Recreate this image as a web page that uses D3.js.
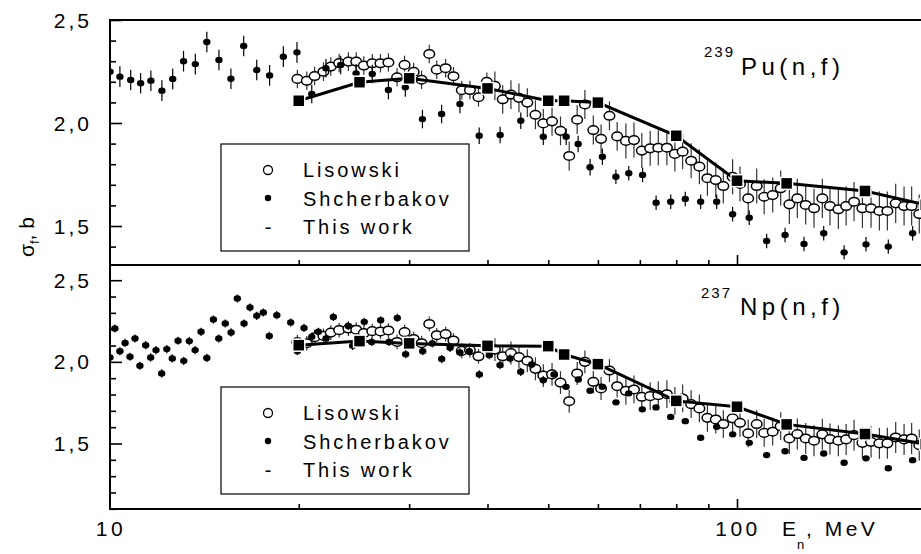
<!DOCTYPE html>
<html>
<head>
<meta charset="utf-8">
<script src="https://cdn.jsdelivr.net/npm/d3@7"></script>
<style>
body{margin:0;background:#fff;}
text{font-family:Arial,'Liberation Sans',sans-serif;fill:#000;}
</style>
</head>
<body>
<div class="chart"></div>
<script>
//// values (E in MeV, sigma in b)

// Lisowski energies, same grid for both targets
const lisE = [19.9,20.6,21.2,21.9,22.5,23.2,24.0,24.7,25.4,26.2,
    27.0,27.8,28.7,29.5,30.5,31.4,32.3,33.2,34.3,35.3,
    36.4,37.5,38.7,39.9,41.1,42.3,43.6,44.9,46.3,47.7,
    49.1,50.7,52.3,54.0,55.6,57.2,59.0,60.7,62.6,64.4,
    66.5,68.5,70.5,72.7,74.9,77.3,79.6,81.9,84.5,87.1,
    89.7,92.5,95.1,98.4,101.1,104.2,107.5,110.5,114.0,117.4,
    121.2,124.8,128.7,132.7,136.8,140.7,145.1,149.3,153.7,158.5,
    163.6,168.7,173.7,179.1,184.7,189.9,195.3];

const lisPu = [2.214,2.205,2.228,2.249,2.274,2.291,2.298,2.298,2.279,2.290,
    2.290,2.294,2.222,2.282,2.248,2.210,2.335,2.259,2.266,2.227,
    2.159,2.160,2.125,2.200,2.180,2.115,2.138,2.122,2.099,2.040,
    1.998,2.008,1.962,1.840,2.016,2.090,1.966,1.923,2.035,1.935,
    1.913,1.917,1.866,1.877,1.880,1.880,1.850,1.861,1.817,1.788,
    1.732,1.723,1.694,1.739,1.704,1.634,1.694,1.642,1.650,1.683,
    1.605,1.634,1.602,1.586,1.634,1.597,1.581,1.597,1.618,1.586,
    1.586,1.573,1.573,1.610,1.597,1.597,1.558];

const lisNp = [2.121,2.114,2.151,2.159,2.179,2.194,2.204,2.197,2.176,2.188,
    2.186,2.192,2.122,2.182,2.140,2.114,2.232,2.163,2.170,2.131,
    2.067,2.072,2.034,2.087,2.075,2.034,2.054,2.029,2.007,1.957,
    1.916,1.923,1.873,1.759,1.929,2.000,1.878,1.837,1.947,1.851,
    1.823,1.831,1.786,1.790,1.796,1.802,1.761,1.776,1.741,1.715,
    1.657,1.647,1.619,1.654,1.627,1.562,1.619,1.565,1.572,1.606,
    1.531,1.558,1.531,1.517,1.556,1.527,1.517,1.525,1.551,1.504,
    1.510,1.501,1.501,1.537,1.525,1.531,1.490];

const lisErr = [0.045,0.045,0.045,0.045,0.045,0.045,0.045,0.045,0.045,0.045,
    0.045,0.045,0.045,0.045,0.045,0.045,0.045,0.045,0.045,0.045,
    0.045,0.045,0.045,0.045,0.07,0.07,0.07,0.07,0.07,0.07,
    0.07,0.07,0.07,0.07,0.07,0.07,0.07,0.07,0.07,0.07,
    0.085,0.085,0.085,0.085,0.085,0.085,0.085,0.085,0.085,0.085,
    0.085,0.085,0.085,0.085,0.085,0.085,0.085,0.085,0.085,0.085,
    0.095,0.095,0.095,0.095,0.095,0.095,0.095,0.095,0.095,0.095,
    0.095,0.095,0.095,0.095,0.095,0.095,0.095];

// Shcherbakov: [E, sigma, error]
const shchPu = [[10.0,2.249,.05],[10.37,2.225,.05],[10.79,2.209,.05],[11.19,2.193,.05],[11.62,2.205,.05],
    [12.1,2.157,.05],[12.59,2.214,.05],[13.1,2.30,.05],[13.68,2.286,.05],[14.27,2.393,.05],
    [14.92,2.306,.05],[15.59,2.215,.05],[16.34,2.374,.05],[17.14,2.257,.05],[17.97,2.231,.05],
    [18.9,2.322,.05],[19.87,2.343,.05],[20.98,2.141,.045],[22.1,2.266,.045],[23.33,2.282,.045],
    [24.69,2.241,.045],[26.2,2.238,.045],[27.8,2.160,.045],[29.58,2.173,.045],[31.5,2.019,.045],
    [33.8,2.044,.045],[36.15,2.092,.045],[38.8,1.938,.04],[41.9,1.942,.04],[45.2,2.011,.04],
    [49.1,1.933,.04],[53.4,1.933,.04],[55.8,1.898,.04],[58.3,1.785,.04],[61.0,1.836,.04],
    [64.1,1.739,.035],[67.2,1.756,.035],[70.7,1.748,.035],[74.3,1.613,.035],[78.4,1.618,.035],
    [82.7,1.631,.035],[87.5,1.618,.035],[92.8,1.618,.035],[98.4,1.557,.035],[104.6,1.540,.035],
    [111.5,1.427,.035],[119.3,1.456,.035],[127.9,1.413,.035],[137.5,1.465,.035],[148.2,1.372,.035],
    [160.6,1.411,.035],[174.3,1.400,.035],[190.6,1.465,.035]];

const shchNp = [[10.0,2.027,.025],[10.18,2.204,.025],[10.37,2.065,.025],[10.57,2.116,.025],[10.76,2.031,.025],
    [10.96,2.143,.025],[11.16,1.976,.025],[11.40,2.102,.025],[11.61,2.027,.025],[11.84,2.072,.025],
    [12.09,1.929,.025],[12.32,2.078,.025],[12.57,2.021,.025],[12.84,2.129,.025],[13.11,2.006,.025],
    [13.38,2.127,.025],[13.67,2.072,.025],[13.97,2.184,.025],[14.27,2.024,.025],[14.62,2.259,.025],
    [14.91,2.143,.025],[15.27,2.235,.025],[15.60,2.180,.025],[15.96,2.388,.025],[16.36,2.235,.025],
    [16.72,2.333,.025],[17.14,2.282,.025],[17.56,2.302,.025],[17.95,2.159,.025],[18.45,2.286,.025],
    [19.42,2.241,.025],[19.90,2.065,.025],[20.39,2.208,.025],[20.98,2.153,.025],[21.49,2.184,.025],
    [22.11,2.143,.025],[22.71,2.275,.025],[23.99,2.220,.025],[24.38,2.098,.025],[25.44,2.245,.025],
    [26.14,2.122,.025],[27.02,2.255,.025],[27.86,2.122,.025],[28.72,2.269,.025],[29.62,2.047,.025],
    [31.53,2.065,.025],[32.66,2.113,.025],[33.81,2.017,.025],[34.86,2.086,.025],[36.15,2.058,.025],
    [37.41,2.065,.025],[38.82,1.923,.025],[40.27,2.041,.025],[41.88,1.980,.025],[43.45,2.021,.025],
    [45.19,1.939,.025],[47.05,1.984,.025],[49.10,1.888,.025],[51.07,1.923,0],[53.37,1.847,0],
    [55.83,1.892,0],[58.29,1.823,0],[60.99,1.847,0],[64.12,1.752,0],[67.2,1.807,0],
    [70.63,1.709,0],[74.27,1.721,0],[78.39,1.663,0],[82.70,1.637,0],[87.51,1.535,0],
    [92.81,1.602,0],[98.43,1.556,0],[104.6,1.504,0],[111.5,1.429,0],[119.3,1.453,0],
    [127.9,1.412,0],[137.5,1.439,0],[148.2,1.382,0],[160.6,1.409,0],[174.3,1.348,0],[190.6,1.398,0]];

// this work
const workE = [20,25,30,40,50,53,60,80,100,120,160,200];
const workPu = [2.108,2.198,2.217,2.168,2.108,2.108,2.099,1.938,1.720,1.707,1.670,1.603];
const workNp = [2.102,2.127,2.113,2.098,2.096,2.045,1.986,1.761,1.725,1.617,1.558,1.496];

const yMajor = [1.5,2.0,2.5];
const yMinor = [1.1,1.2,1.3,1.4,1.6,1.7,1.8,1.9,2.1,2.2,2.3,2.4];
const xMinor = [20,30,40,50,60,70,80,90];
const xMajor = [100];
const xLabels = [10,100];
const legendLabels = ['Lisowski','Shcherbakov','This work'];


//// setup

const w = 921, h = 554;
const left = 110;

const svg = d3.select('.chart')
    .append('svg')
    .attr('width', w)
    .attr('height', h);

const x = d3.scaleLog()
    .domain([10,200])
    .range([left, left + 627*Math.log10(20)]);

const panels = [
    {top:20, bottom:265, y:d3.scaleLinear().domain([1.5,2.5]).range([226,20]),
     lis:lisPu, shch:shchPu, work:workPu, iso:'239', name:'Pu(n,f)', legendTop:144,
     isoPos:[704,57], namePos:[741,75]},
    {top:265, bottom:509, y:d3.scaleLinear().domain([1.5,2.5]).range([443.5,280.2]),
     lis:lisNp, shch:shchNp, work:workNp, iso:'237', name:'Np(n,f)', legendTop:387,
     isoPos:[701,298], namePos:[740,315]}
];

const fmt = d => d3.format('.1f')(d).replace('.', ',');

panels.forEach((p,i) => drawPanel(p,i));

// frame lines on top of everything
svg.append('line').attr('x1',left).attr('x2',w).attr('y1',20).attr('y2',20)
    .style('stroke','#000').style('stroke-width',2);
panels.forEach(p => {
    svg.append('line').attr('x1',left).attr('x2',w).attr('y1',p.bottom).attr('y2',p.bottom)
        .style('stroke','#000').style('stroke-width',2);
});
svg.append('line').attr('x1',left).attr('x2',left).attr('y1',19).attr('y2',510)
    .style('stroke','#000').style('stroke-width',2);


//// x labels

svg.selectAll('.xlab')
    .data(xLabels)
    .enter().append('text')
    .attr('class','xlab')
    .attr('x', d => x(d) + 1)
    .attr('y', 536)
    .attr('text-anchor','middle')
    .style('font-size','21px')
    .style('letter-spacing','3.5px')
    .text(d => d);

svg.append('text').attr('x',782).attr('y',536).style('font-size','21px').text('E');
svg.append('text').attr('x',797).attr('y',549).style('font-size','13px').text('n');
svg.append('text').attr('x',806).attr('y',536).style('font-size','21px')
    .style('letter-spacing','3.5px').text(', MeV');

// y label
const yl = svg.append('text')
    .attr('transform','translate(34,237) rotate(-90)')
    .attr('text-anchor','middle')
    .style('font-size','21px');
yl.append('tspan').text('σ');
yl.append('tspan').attr('dy',5).style('font-size','13px').text('f');
yl.append('tspan').attr('dy',-5).text(', b');


function drawPanel(p, i){
    const y = p.y;

    svg.append('clipPath').attr('id','clip'+i)
        .append('rect')
        .attr('x',left).attr('y',p.top)
        .attr('width',w-left).attr('height',p.bottom-p.top);

    const g = svg.append('g').attr('clip-path','url(#clip'+i+')');

    // left ticks, pointing inwards
    const inRange = d => y(d) >= p.top - 1 && y(d) <= p.bottom + 1;
    const majAxis = d3.axisRight(y).tickValues(yMajor.filter(inRange)).tickSize(12).tickFormat('');
    const minAxis = d3.axisRight(y).tickValues(yMinor.filter(inRange)).tickSize(6).tickFormat('');
    [majAxis,minAxis].forEach(a => {
        const ax = svg.append('g').attr('transform',`translate(${left},0)`).call(a);
        ax.select('.domain').remove();
        ax.selectAll('line').style('stroke','#000').style('stroke-width',1.6);
    });

    svg.selectAll('.ylab'+i)
        .data(yMajor.filter(inRange))
        .enter().append('text')
        .attr('x', 92)
        .attr('y', d => y(d))
        .attr('dy','0.36em')
        .attr('text-anchor','end')
        .style('font-size','21px')
        .style('letter-spacing','3px')
        .text(fmt);

    // bottom ticks, pointing up
    [[xMinor,5],[xMajor,10]].forEach(([vals,size]) => {
        const ax = svg.append('g').attr('transform',`translate(0,${p.bottom})`)
            .call(d3.axisTop(x).tickValues(vals).tickSize(size).tickFormat(''));
        ax.select('.domain').remove();
        ax.selectAll('line').style('stroke','#000').style('stroke-width',1.6);
    });

    // Lisowski
    const lis = lisE.map((e,k) => ({e:e, s:p.lis[k], err:lisErr[k]}));
    g.selectAll('.lbar')
        .data(lis)
        .enter().append('line')
        .attr('x1', d => x(d.e)).attr('x2', d => x(d.e))
        .attr('y1', d => y(d.s - d.err)).attr('y2', d => y(d.s + d.err))
        .style('stroke','#333').style('stroke-width',1.2);
    g.selectAll('.lpt')
        .data(lis)
        .enter().append('ellipse')
        .attr('cx', d => x(d.e)).attr('cy', d => y(d.s))
        .attr('rx',5.3).attr('ry',4.3)
        .style('fill','#fff').style('stroke','#000').style('stroke-width',1.5);

    // Shcherbakov
    const sh = p.shch.map(d => ({e:d[0], s:d[1], err:d[2]}));
    g.selectAll('.sbar')
        .data(sh.filter(d => d.err > 0))
        .enter().append('line')
        .attr('x1', d => x(d.e)).attr('x2', d => x(d.e))
        .attr('y1', d => y(d.s - d.err)).attr('y2', d => y(d.s + d.err))
        .style('stroke','#000').style('stroke-width',1.2);
    g.selectAll('.spt')
        .data(sh)
        .enter().append('ellipse')
        .attr('cx', d => x(d.e)).attr('cy', d => y(d.s))
        .attr('rx',3.7).attr('ry',3.2)
        .style('fill','#000');

    // this work
    const work = workE.map((e,k) => ({e:e, s:p.work[k]}));
    const line = d3.line().x(d => x(d.e)).y(d => y(d.s));
    g.append('path')
        .datum(work)
        .attr('d', line)
        .style('fill','none').style('stroke','#000').style('stroke-width',3);
    g.selectAll('.wpt')
        .data(work)
        .enter().append('rect')
        .attr('x', d => x(d.e) - 6).attr('y', d => y(d.s) - 6)
        .attr('width',12).attr('height',12)
        .style('fill','#000').style('stroke','#fff').style('stroke-width',1.5);

    // legend
    const lg = svg.append('g').attr('transform',`translate(221,${p.legendTop})`);
    lg.append('rect').attr('width',248).attr('height',107)
        .style('fill','#fff').style('stroke','#000').style('stroke-width',1.2);
    lg.append('circle').attr('cx',47).attr('cy',26).attr('r',4.5)
        .style('fill','#fff').style('stroke','#000').style('stroke-width',1.3);
    lg.append('circle').attr('cx',47).attr('cy',54).attr('r',3.2).style('fill','#000');
    lg.append('text').attr('x',47).attr('y',90).attr('text-anchor','middle')
        .style('font-size','20px').text('-');
    lg.selectAll('.ltext')
        .data(legendLabels)
        .enter().append('text')
        .attr('x',82)
        .attr('y',(d,k) => 33 + k*28.5)
        .style('font-size','20px')
        .style('letter-spacing','2.9px')
        .text(d => d);

    // reaction label
    svg.append('text').attr('x',p.isoPos[0]).attr('y',p.isoPos[1])
        .style('font-size','15px').style('letter-spacing','2px').text(p.iso);
    svg.append('text').attr('x',p.namePos[0]).attr('y',p.namePos[1])
        .style('font-size','24px').style('letter-spacing','4.5px').text(p.name);
}
</script>
</body>
</html>
